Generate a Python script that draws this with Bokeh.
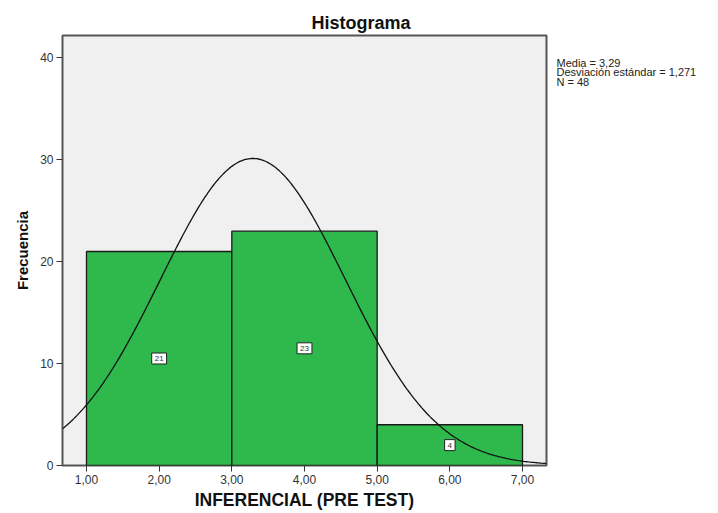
import numpy as np
from bokeh.plotting import figure
from bokeh.layouts import row
from bokeh.models import Range1d, FixedTicker, Label, ColumnDataSource
from bokeh.core.properties import value
from bokeh.embed import file_html
from bokeh.resources import INLINE

# Data
bin_left = [1.0, 3.0, 5.0]
bin_right = [3.0, 5.0, 7.0]
counts = [21, 23, 4]
mean = 3.29
sd = 1.271
n = 48
x_ticks = [1, 2, 3, 4, 5, 6, 7]
x_tick_labels = ["1,00", "2,00", "3,00", "4,00", "5,00", "6,00", "7,00"]
y_ticks = [0, 10, 20, 30, 40]
stats = ["Media = 3,29", "Desviación estándar = 1,271", "N = 48"]

FONT = "Liberation Sans"
H = 513
FRAME_TOP, FRAME_BOTTOM = 35, 465

p = figure(width=550, height=H, output_backend="svg", toolbar_location=None,
           x_range=Range1d(0.67, 7.33), y_range=Range1d(0, 42.2),
           min_border_left=62, min_border_right=4, min_border_top=FRAME_TOP,
           min_border_bottom=H - FRAME_BOTTOM)

p.title.text = "Histograma"
p.title.align = "left"
p.title.offset = 249
p.title.text_font = FONT
p.title.text_font_size = "18px"
p.title.text_font_style = "bold"
p.title.text_color = "#111111"
p.title.standoff = 5

p.background_fill_color = "#f0f0f0"
p.border_fill_color = "white"
p.outline_line_color = "#555555"
p.outline_line_width = 2
p.grid.visible = False

src = ColumnDataSource(dict(left=bin_left, right=bin_right, top=counts,
                            bottom=[0] * len(counts)))
p.quad(left="left", right="right", top="top", bottom="bottom", source=src,
       fill_color="#2fb84b", line_color="#1a1a1a", line_width=1.3)

xs = np.linspace(0.67, 7.33, 300)
bw = bin_right[0] - bin_left[0]
ys = n * bw * np.exp(-0.5 * ((xs - mean) / sd) ** 2) / (sd * np.sqrt(2 * np.pi))
p.line(xs, ys, line_color="#111111", line_width=1.3)

for l, r, c in zip(bin_left, bin_right, counts):
    p.add_layout(Label(x=(l + r) / 2, y=c / 2, text=str(c), text_align="center",
                       text_baseline="middle", text_font=FONT, text_font_size="8px",
                       text_color="#333333",
                       background_fill_color="white", border_line_color="#222222",
                       border_line_width=1, padding=3))

p.xaxis.ticker = FixedTicker(ticks=x_ticks)
p.xaxis.major_label_overrides = {t: s for t, s in zip(x_ticks, x_tick_labels)}
p.yaxis.ticker = FixedTicker(ticks=y_ticks)
for ax in (p.xaxis, p.yaxis):
    ax.axis_line_color = None
    ax.minor_tick_line_color = None
    ax.major_tick_line_color = "#333333"
    ax.major_tick_out = 6
    ax.major_tick_in = 0
    ax.major_label_text_font = FONT
    ax.major_label_text_font_size = "12px"
    ax.major_label_text_color = "#333333"
    ax.major_label_standoff = 3
    ax.axis_label_text_font = FONT
    ax.axis_label_text_font_style = "bold"
    ax.axis_label_text_color = "#111111"
p.xaxis.axis_label = "INFERENCIAL (PRE TEST)"
p.xaxis.axis_label_text_font_size = "17.5px"
p.xaxis.axis_label_standoff = 3
p.yaxis.axis_label = "Frecuencia"
p.yaxis.axis_label_text_font_size = "15px"
p.yaxis.axis_label_standoff = 6

# side panel with statistics (its frame is aligned with the main frame)
p2 = figure(width=168, height=H, output_backend="svg", toolbar_location=None,
            x_range=Range1d(0, 168), y_range=Range1d(FRAME_BOTTOM, FRAME_TOP),
            x_axis_location=None, y_axis_location=None,
            min_border_left=0, min_border_right=0, min_border_top=FRAME_TOP,
            min_border_bottom=H - FRAME_BOTTOM)
p2.title = None
p2.grid.visible = False
p2.outline_line_color = None
p2.background_fill_color = "white"
p2.text(x=[6] * len(stats), y=[62 + 9.5 * i for i in range(len(stats))], text=stats,
        text_font=value(FONT), text_font_size="11px", text_color="#222222",
        text_baseline="middle")

open("out.html", "w").write(file_html(row(p, p2), INLINE))
